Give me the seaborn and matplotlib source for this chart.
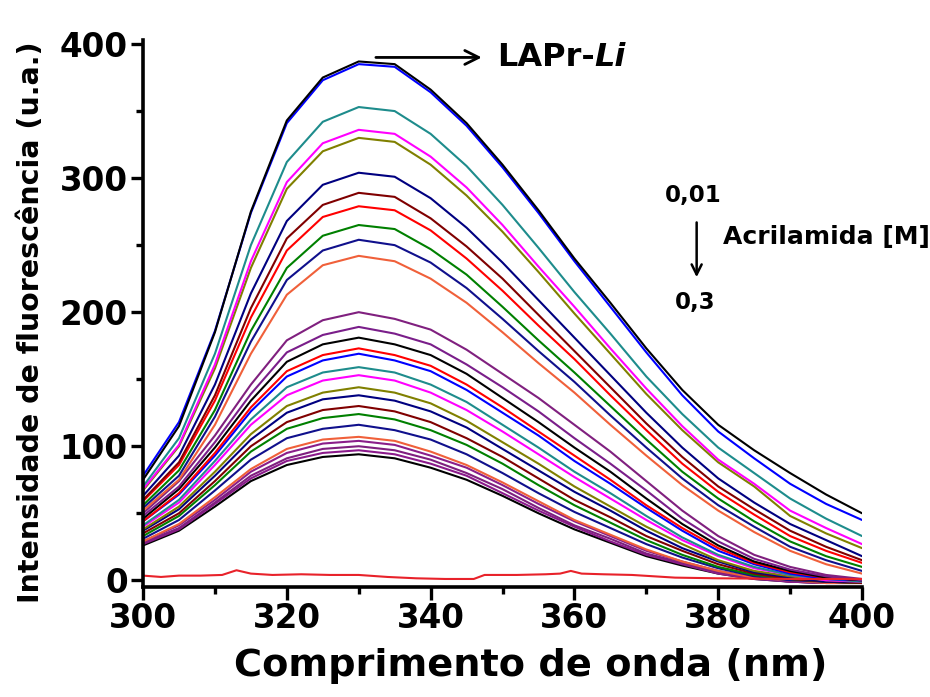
import pandas as pd
import numpy as np
import matplotlib
matplotlib.use('Agg')
import matplotlib.pyplot as plt
import seaborn as sns
from matplotlib.ticker import MultipleLocator

sns.set_style("ticks", {'axes.edgecolor': 'black', 'text.color': 'black',
                        'xtick.color': 'black', 'ytick.color': 'black',
                        'axes.labelcolor': 'black'})
plt.rcParams['font.family'] = ['DejaVu Sans']
plt.rcParams['font.weight'] = 'bold'

# wavelength grid (nm)
wavelength = [300, 305, 310, 315, 320, 325, 330, 335, 340, 345, 350,
              355, 360, 365, 370, 375, 380, 385, 390, 395, 400]

# spectra, highest to lowest
lapr_li  = [75, 115, 185, 275, 343, 375, 387, 385, 366, 341, 310, 276, 240, 207, 173, 142, 116, 97, 80, 64, 50]
s_blue   = [78, 118, 186, 274, 341, 373, 385, 383, 364, 339, 308, 274, 238, 204, 170, 138, 111, 91, 72, 57, 45]
s_teal   = [70, 106, 169, 250, 312, 342, 353, 350, 333, 309, 280, 248, 215, 184, 152, 124, 99, 80, 61, 46, 33]
s_mag    = [68, 101, 161, 238, 297, 326, 336, 333, 316, 293, 265, 234, 204, 173, 143, 115, 90, 72, 52, 39, 27]
s_olive  = [67, 100, 158, 233, 292, 320, 330, 327, 310, 287, 260, 230, 199, 169, 139, 112, 88, 70, 48, 35, 24]
s_navy   = [63, 93, 146, 214, 268, 295, 304, 301, 285, 263, 237, 209, 181, 153, 125, 99, 76, 58, 42, 30, 18]
s_wine   = [60, 88, 138, 203, 255, 280, 289, 286, 270, 249, 225, 198, 171, 144, 117, 92, 70, 53, 37, 25, 15]
s_red    = [59, 86, 134, 196, 246, 271, 279, 276, 261, 240, 216, 190, 165, 138, 112, 87, 66, 49, 33, 22, 13]
s_green  = [56, 82, 127, 186, 233, 257, 265, 262, 247, 228, 204, 179, 155, 130, 105, 81, 61, 44, 29, 18, 10]
s_navy2  = [54, 78, 122, 178, 224, 246, 254, 250, 237, 218, 195, 171, 148, 123, 99, 76, 56, 40, 25, 15, 7]
s_coral  = [52, 75, 116, 169, 213, 235, 242, 238, 225, 207, 185, 162, 140, 116, 93, 71, 52, 36, 22, 12, 5]
s_purp1  = [50, 74, 108, 146, 179, 194, 200, 195, 187, 172, 154, 136, 116, 96, 74, 52, 33, 19, 10, 4, 1]
s_purp2  = [48, 70, 103, 139, 170, 183, 189, 184, 176, 161, 144, 126, 106, 87, 67, 46, 29, 16, 8, 3, 0]
s_black2 = [46, 68, 99, 134, 163, 176, 181, 176, 168, 154, 136, 118, 99, 81, 61, 42, 26, 14, 7, 2, 0]
s_red2   = [44, 65, 95, 129, 156, 168, 173, 168, 160, 146, 129, 111, 93, 75, 56, 39, 24, 13, 6, 2, 0]
s_blue2  = [44, 64, 93, 126, 152, 164, 169, 164, 156, 142, 125, 108, 89, 72, 54, 37, 22, 12, 5, 1, 0]
s_teal2  = [41, 60, 89, 120, 144, 155, 159, 155, 146, 133, 116, 99, 81, 65, 48, 32, 19, 10, 4, 1, -1]
s_mag2   = [40, 58, 86, 116, 138, 149, 153, 149, 140, 127, 111, 94, 77, 61, 45, 30, 18, 9, 4, 0, -1]
s_olive2 = [38, 55, 81, 109, 130, 140, 144, 140, 132, 119, 103, 87, 70, 55, 40, 27, 15, 7, 3, 0, -1]
s_navy3  = [37, 53, 78, 105, 125, 135, 138, 134, 126, 114, 98, 82, 66, 52, 37, 24, 14, 6, 2, -1, -1]
s_wine2  = [35, 50, 74, 100, 118, 127, 130, 126, 118, 106, 92, 76, 60, 47, 33, 22, 12, 5, 1, -1, -2]
s_green2 = [33, 48, 71, 96, 113, 121, 124, 120, 112, 101, 87, 71, 56, 43, 30, 19, 10, 4, 1, -1, -2]
s_navy4  = [31, 45, 67, 90, 106, 113, 116, 112, 105, 94, 80, 65, 51, 39, 27, 17, 9, 3, 0, -1, -2]
s_coral2 = [29, 42, 62, 83, 98, 105, 107, 104, 96, 86, 73, 59, 45, 34, 23, 14, 7, 2, 0, -2, -2]
s_purp3  = [29, 41, 60, 81, 95, 102, 104, 101, 93, 84, 71, 57, 44, 33, 22, 14, 7, 2, -1, -2, -2]
s_purp4  = [28, 39, 58, 78, 91, 98, 100, 97, 90, 80, 68, 54, 41, 31, 20, 13, 6, 2, -1, -2, -2]
s_purp5  = [27, 38, 57, 76, 89, 95, 97, 94, 87, 78, 65, 52, 40, 29, 19, 12, 5, 1, -1, -2, -2]
s_black3 = [26, 37, 55, 74, 86, 92, 94, 91, 84, 75, 63, 50, 38, 28, 18, 11, 5, 1, -1, -2, -2]

# blank (buffer only)
blank_nm  = [300, 302.5, 305, 308, 311, 313, 315, 318, 322, 326, 330, 334, 338, 342,
             346, 347.5, 352, 356, 358, 359.5, 361, 364, 368, 371, 374, 380, 390, 400]
blank_val = [3.5, 2.5, 3.5, 3.5, 4, 7.5, 5, 4, 4.5, 4, 4, 2.5, 1.5, 1,
             1, 4, 4, 4.5, 5, 7, 5, 4.5, 4, 3, 2, 1.5, 1, 1]

series = [lapr_li, s_blue, s_teal, s_mag, s_olive, s_navy, s_wine, s_red, s_green,
          s_navy2, s_coral, s_purp1, s_purp2, s_black2, s_red2, s_blue2, s_teal2,
          s_mag2, s_olive2, s_navy3, s_wine2, s_green2, s_navy4, s_coral2, s_purp3,
          s_purp4, s_purp5, s_black3]
colors = ['#000000', '#0000FF', '#1E8C8C', '#FF00FF', '#808000', '#000080', '#800000',
          '#FF0000', '#008000', '#10108C', '#F0603A', '#80207F', '#7A1E8A', '#000000',
          '#FF0000', '#0000FF', '#1E8C8C', '#FF00FF', '#808000', '#000080', '#800000',
          '#008000', '#10108C', '#F0603A', '#8A1E8A', '#7F1F7F', '#8B1A8B', '#000000']

rows = []
for i, s in enumerate(series):
    for w, v in zip(wavelength, s):
        rows.append({'nm': w, 'I': v, 'curve': i})
df = pd.DataFrame(rows)

fig = plt.figure(figsize=(9.3, 6.97), dpi=100)
ax = fig.add_axes([0.1538, 0.1578, 0.7731, 0.7848])

# lowest first so the top spectra end up on top
order = list(range(len(series)))[::-1]
sns.lineplot(data=df, x='nm', y='I', hue='curve', hue_order=order,
             palette=[colors[i] for i in order], legend=False, linewidth=1.5,
             ax=ax, estimator=None, sort=False,
             solid_joinstyle='round', solid_capstyle='round')
sns.lineplot(x=blank_nm, y=blank_val, color='#E8222A', linewidth=1.5, ax=ax)

ax.set_xlim(300, 400)
ax.set_ylim(-5, 403)
ax.xaxis.set_major_locator(MultipleLocator(20))
ax.xaxis.set_minor_locator(MultipleLocator(10))
ax.yaxis.set_major_locator(MultipleLocator(100))
ax.yaxis.set_minor_locator(MultipleLocator(50))
ax.tick_params(which='major', length=9, width=2.4, labelsize=23.5, pad=2, colors='black')
ax.tick_params(which='minor', length=5, width=2.4, colors='black')
for lab in ax.get_xticklabels() + ax.get_yticklabels():
    lab.set_fontweight('bold')
sns.despine(ax=ax)
for sp in ['left', 'bottom']:
    ax.spines[sp].set_linewidth(2.6)
    ax.spines[sp].set_color('black')

ax.set_xlabel('Comprimento de onda (nm)', fontsize=27.5, fontweight='bold', color='black')
ax.set_ylabel('Intensidade de fluorescência (u.a.)', fontsize=20.5, fontweight='bold', color='black')
ax.xaxis.set_label_coords(0.539, -0.112)
ax.yaxis.set_label_coords(-0.136, 0.484)

ax.annotate('', xy=(347.5, 390), xytext=(332, 390),
            arrowprops=dict(arrowstyle='->', lw=2, color='black', mutation_scale=25))
ax.text(349.2, 390, 'LAPr-', fontsize=23, fontweight='bold', va='center', ha='left', color='black')
ax.text(362.7, 390, 'Li', fontsize=23, fontweight='bold', style='italic', va='center', ha='left', color='black')

ax.text(376.5, 287, '0,01', fontsize=16.5, fontweight='bold', ha='center', va='center', color='black')
ax.annotate('', xy=(377.0, 224), xytext=(377.0, 269),
            arrowprops=dict(arrowstyle='->', lw=1.8, color='black', mutation_scale=18))
ax.text(380.7, 256, 'Acrilamida [M]', fontsize=18, fontweight='bold', ha='left', va='center', color='black')
ax.text(376.8, 207, '0,3', fontsize=16.5, fontweight='bold', ha='center', va='center', color='black')

fig.savefig('out.png', dpi=100)
